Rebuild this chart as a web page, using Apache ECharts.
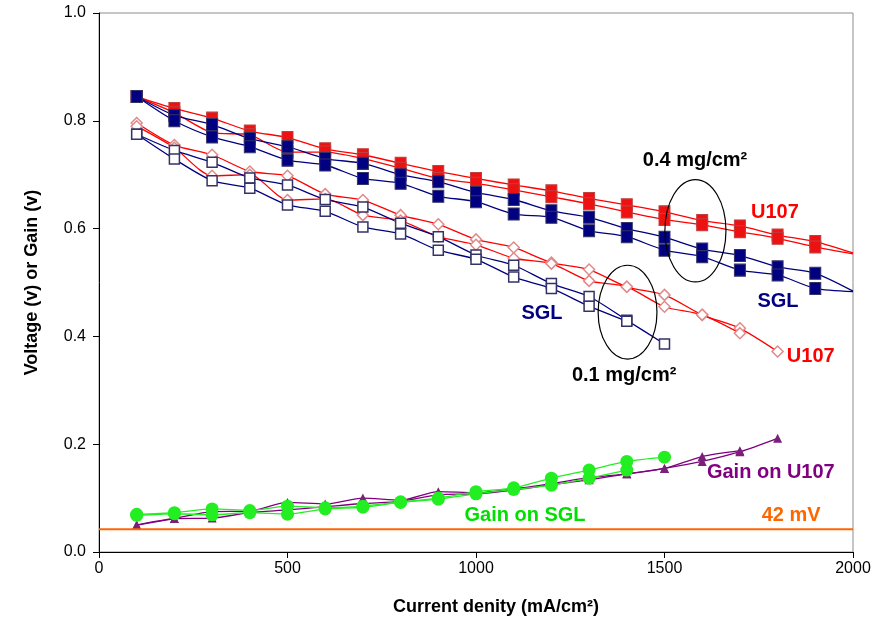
<!DOCTYPE html>
<html><head><meta charset="utf-8">
<script src="https://cdn.jsdelivr.net/npm/echarts@6/dist/echarts.min.js"></script>
<style>html,body{margin:0;padding:0;background:#fff}#c{width:879px;height:625px}</style>
</head><body><div id="c"></div>
<script>
// ---- data ----
const xs04 = [100,200,300,400,500,600,700,800,900,1000,1100,1200,1300,1400,1500,1600,1700,1800,1900];
const u107_04_a = [0.845,0.823,0.805,0.781,0.769,0.748,0.737,0.721,0.706,0.693,0.681,0.670,0.656,0.644,0.631,0.615,0.605,0.588,0.576];
const u107_04_b = [0.845,0.815,0.778,0.774,0.742,0.742,0.730,0.712,0.693,0.684,0.672,0.659,0.646,0.631,0.617,0.607,0.594,0.582,0.566];
const sgl_04_a  = [0.845,0.810,0.793,0.767,0.752,0.730,0.721,0.700,0.687,0.667,0.654,0.633,0.621,0.600,0.584,0.562,0.550,0.529,0.517];
const sgl_04_b  = [0.845,0.800,0.770,0.752,0.727,0.718,0.693,0.684,0.660,0.650,0.627,0.621,0.596,0.585,0.560,0.548,0.523,0.514,0.489];
const trendX = 2000;
const u107_04_end = [0.555, 0.553];
const sgl_04_end  = [0.484, 0.483];

const xs01 = [100,200,300,400,500,600,700,800,900,1000,1100,1200,1300,1400,1500,1600,1700,1800];
const u107_01_a = [0.796,0.755,0.737,0.706,0.698,0.664,0.653,0.625,0.608,0.580,0.565,0.537,0.524,0.492,0.477,0.440,0.415,0.372];
const u107_01_b = [0.790,0.750,0.698,0.700,0.653,0.655,0.625,0.615,0.585,0.570,0.545,0.535,0.503,0.492,0.455,0.440,0.406];
const sgl_01_a  = [0.775,0.745,0.723,0.694,0.681,0.654,0.640,0.610,0.585,0.551,0.532,0.498,0.474,0.430,0.386];
const sgl_01_b  = [0.775,0.729,0.689,0.675,0.644,0.632,0.603,0.590,0.560,0.543,0.510,0.489,0.456,0.428];

const gain_u107_a = [0.050,0.062,0.075,0.076,0.092,0.089,0.100,0.096,0.112,0.110,0.117,0.127,0.138,0.145,0.155,0.168,0.186,0.211];
const gain_u107_b = [0.050,0.062,0.063,0.073,0.078,0.084,0.090,0.094,0.106,0.108,0.115,0.125,0.134,0.145,0.155,0.177,0.188];
const gain_sgl_a  = [0.070,0.073,0.080,0.077,0.085,0.082,0.085,0.093,0.100,0.112,0.119,0.137,0.152,0.168,0.176];
const gain_sgl_b  = [0.068,0.071,0.069,0.073,0.070,0.080,0.083,0.092,0.098,0.108,0.116,0.124,0.137,0.152];
const level42 = 0.042;

const xTicks = [0,500,1000,1500,2000];
const yTicks = [0,0.2,0.4,0.6,0.8,1.0];

// annotations in data coords
const notes = [
  {text:'0.4 mg/cm²', x:1581, y:0.727, color:'#000'},
  {text:'U107', x:1793, y:0.629, color:'#ff0000'},
  {text:'SGL', x:1801, y:0.464, color:'#000080'},
  {text:'SGL', x:1175, y:0.443, color:'#000080'},
  {text:'0.1 mg/cm²', x:1393, y:0.327, color:'#000'},
  {text:'U107', x:1888, y:0.362, color:'#ff0000'},
  {text:'Gain on U107', x:1782, y:0.147, color:'#800080'},
  {text:'Gain on SGL', x:1130, y:0.067, color:'#00e000'},
  {text:'42 mV', x:1836, y:0.067, color:'#ff6600'}
];
const ellipses = [
  {x:1582, y:0.596, rx:81, ry:0.095},
  {x:1402, y:0.445, rx:78, ry:0.087}
];

// ---- build ----
function pairs(xs, ys){ return ys.map((v,i)=>[xs[i], v]); }
function withEnd(xs, ys, endY){ const d = pairs(xs, ys); d.push({value:[trendX, endY], symbol:'none'}); return d; }

const redSq = {color:'#ee1111', borderColor:'#c04040', borderWidth:1};
const navySq = {color:'#000080', borderColor:'#333366', borderWidth:1};
const hollowSq = {color:'#ffffff', borderColor:'#333366', borderWidth:1.5};
const hollowDia = {color:'#ffffff', borderColor:'#e08a8a', borderWidth:1.5};

function ser(data, lineColor, symbol, size, itemStyle, z){
  return {type:'line', data, smooth:0.25, symbol, symbolSize:size, showSymbol:true,
    lineStyle:{color:lineColor, width:1.3}, itemStyle, z: z||2, animation:false};
}

const series = [
  ser(pairs(xs01,u107_01_a), '#ff0000', 'diamond', [11,11], hollowDia),
  ser(pairs(xs01,u107_01_b), '#ff0000', 'diamond', [11,11], hollowDia),
  ser(pairs(xs01,sgl_01_a), '#000080', 'rect', 10, hollowSq),
  ser(pairs(xs01,sgl_01_b), '#000080', 'rect', 10, hollowSq),
  ser(withEnd(xs04,u107_04_a,u107_04_end[0]), '#ff0000', 'rect', [11,12], redSq),
  ser(withEnd(xs04,u107_04_b,u107_04_end[1]), '#ff0000', 'rect', [11,12], redSq),
  ser(withEnd(xs04,sgl_04_a,sgl_04_end[0]), '#000080', 'rect', [11,12], navySq),
  ser(withEnd(xs04,sgl_04_b,sgl_04_end[1]), '#000080', 'rect', [11,12], navySq),
  ser(pairs(xs01,gain_u107_a), '#800080', 'triangle', 9, {color:'#7a1f7a'}),
  ser(pairs(xs01,gain_u107_b), '#800080', 'triangle', 9, {color:'#7a1f7a'}),
  ser(pairs(xs01,gain_sgl_a), '#22ee22', 'circle', 13, {color:'#22ee22'}),
  ser(pairs(xs01,gain_sgl_b), '#22ee22', 'circle', 13, {color:'#22ee22'}),
  {type:'line', data:[[0,level42],[2000,level42]], symbol:'none', lineStyle:{color:'#ff6600', width:2}, z:3, animation:false}
];

const chart = echarts.init(document.getElementById('c'), null, {renderer:'canvas'});
const font = '"Liberation Sans", Arial, sans-serif';
chart.setOption({
  animation:false,
  grid:{left:99, right:26, top:13, bottom:73, show:true, borderColor:'#8c8c8c', borderWidth:1, backgroundColor:'transparent'},
  xAxis:{type:'value', min:xTicks[0], max:xTicks[xTicks.length-1], interval:500,
    name:'Current denity (mA/cm²)', nameLocation:'middle', nameGap:46,
    nameTextStyle:{fontFamily:font, fontWeight:'bold', fontSize:18, color:'#000', padding:[0,0,0,40]},
    axisLine:{onZero:false, lineStyle:{color:'#000', width:1}},
    axisTick:{show:true, length:6, lineStyle:{color:'#000'}},
    axisLabel:{fontFamily:font, fontSize:16, color:'#000', margin:9, formatter:v=>String(v)},
    splitLine:{show:false}},
  yAxis:{type:'value', min:yTicks[0], max:yTicks[yTicks.length-1], interval:0.2,
    name:'Voltage (v) or Gain (v)', nameLocation:'middle', nameGap:58,
    nameTextStyle:{fontFamily:font, fontWeight:'bold', fontSize:18, color:'#000'},
    axisLine:{show:true, lineStyle:{color:'#000', width:1}},
    axisTick:{show:true, length:6, lineStyle:{color:'#000'}},
    axisLabel:{fontFamily:font, fontSize:16, color:'#000', margin:13, formatter:v=>v.toFixed(1)},
    splitLine:{show:false}},
  series
});

const g = [];
ellipses.forEach(e=>{
  const c = chart.convertToPixel({gridIndex:0},[e.x,e.y]);
  const r = chart.convertToPixel({gridIndex:0},[e.x+e.rx,e.y+e.ry]);
  g.push({type:'ellipse', shape:{cx:c[0], cy:c[1], rx:Math.abs(r[0]-c[0]), ry:Math.abs(c[1]-r[1])},
    style:{fill:'none', stroke:'#000', lineWidth:1.2}, z:10});
});
notes.forEach(n=>{
  const p = chart.convertToPixel({gridIndex:0},[n.x,n.y]);
  g.push({type:'text', x:p[0], y:p[1], z:11,
    style:{text:n.text, fill:n.color, font:'bold 20px '+font, textAlign:'center', textVerticalAlign:'middle'}});
});
chart.setOption({graphic:g});
</script>
</body></html>
